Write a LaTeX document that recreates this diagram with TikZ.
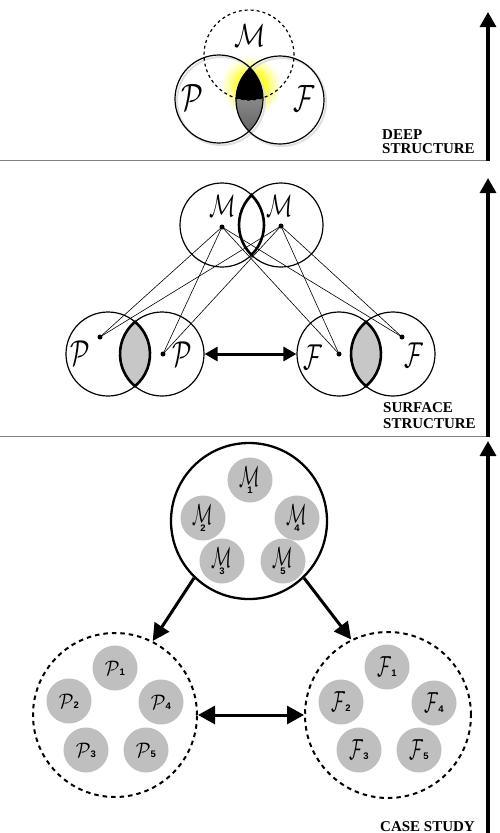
\documentclass[tikz,border=0pt]{standalone}
\usepackage{fontspec}
\setmainfont{Liberation Serif}
\setsansfont{Liberation Sans}
\usetikzlibrary{arrows.meta}

% soft yellow halo behind the triple overlap (25bp = path radius)
\pgfdeclareradialshading{halo}{\pgfpoint{0bp}{0bp}}{%
  color(0bp)=(yellow!95!white); color(11bp)=(yellow!85!white);
  color(17bp)=(yellow!40!white); color(24bp)=(white); color(50bp)=(white)}

% hand-lettered symbols
\newcommand\hM[2]{\scalebox{#1}[#2]{$\mathcal{M}$}}
\newcommand\hP[2]{\scalebox{#1}[#2]{$\mathcal{P}$}}
\newcommand\hF[2]{\scalebox{#1}[#2]{$\mathcal{F}$}}
\newcommand\idx[1]{{\fontsize{9.5}{9.5}\sffamily\bfseries #1}}

\begin{document}
\begin{tikzpicture}[x=1pt, y=-1pt,
  ring/.style={circle, draw, line width=1.2pt, minimum size=#1, inner sep=0pt},
  lensline/.style={line width=2.6pt},
  dotmark/.style={circle, fill, inner sep=0pt, minimum size=5pt},
  letter/.style={inner sep=0pt},
  wire/.style={line width=0.6pt},
  heading/.style={font=\fontsize{15}{15}\selectfont\bfseries, inner sep=0pt, anchor=base west},
  divider/.style={draw=black!50, line width=0.9pt},
  axisarrow/.style={line width=3.2pt, -{Triangle[length=15pt,width=16pt]}},
  linkarrow/.style={line width=3pt, {Triangle[length=13pt,width=14pt]}-{Triangle[length=13pt,width=14pt]}},
  bigarrow/.style={line width=3pt, -{Triangle[length=17pt,width=17pt]}},
  bigdouble/.style={line width=3pt, {Triangle[length=17pt,width=18pt]}-{Triangle[length=17pt,width=18pt]}},
  seed/.style={circle, fill=black!25, minimum size=45pt, inner sep=0pt, align=center},
  dashring/.style={circle, draw, line width=2pt, dash pattern=on 4.5pt off 4pt, minimum size=#1, inner sep=0pt},
]
\fill[white] (0,0) rectangle (499,833);
\useasboundingbox (0,0) rectangle (499,833);

% ---------------- deep structure ----------------
\shade[shading=halo] (251,86) circle (31);
% faint drop shadow of the two solid rings
\draw[black!12, line width=2pt] (221,101) circle (44);
\draw[black!12, line width=2pt] (282,102) circle (44);
\begin{scope}
  \clip (219,99) circle (44);
  \clip (280,100) circle (44);
  \shade[top color=black!30, bottom color=black!62] (215,60) rectangle (285,135);
  \clip (249,55) circle (45);
  \fill (215,50) rectangle (285,115);
\end{scope}
\node[ring=88pt] (pT) at (219,99) {};
\node[ring=88pt] (fT) at (280,100) {};
\node[ring=90pt, dash pattern=on 3pt off 3pt] (mT) at (249,55) {};
\node[letter] (mTl) at (250,36) {\hM{2.6}{3.2}};
\node[letter] (pTl) at (192,98) {\hP{2.8}{3.8}};
\node[letter] (fTl) at (304,99) {\hF{2.6}{3.8}};

\node[heading] (deepA) at (382,139) {DEEP};
\node[heading] (deepB) at (382,153) {STRUCTURE};
\draw[divider] (0,160) -- (486,160);
\coordinate (axA0) at (488,161);
\coordinate (axA1) at (488,12);
\draw[axisarrow] (axA0) -- (axA1);

% ---------------- surface structure ----------------
\node[dotmark] (dL) at (222,227) {};
\node[dotmark] (dR) at (281,226) {};
\node[dotmark] (dP1) at (100,337) {};
\node[dotmark] (dP2) at (163,354) {};
\node[dotmark] (dF1) at (339,354) {};
\node[dotmark] (dF2) at (402,337) {};
\foreach \s in {dL,dR}
  \foreach \t in {dP1,dP2,dF1,dF2}
    \draw[wire] (\s.center) -- (\t.center);

\node[ring=84pt] (mL) at (222,225) {};
\node[ring=84pt] (mR) at (281,225) {};
\draw[lensline] (251.5,195.1) arc[start angle=225.4, end angle=134.6, radius=42]
  arc[start angle=45.4, end angle=-45.4, radius=42] -- cycle;

\filldraw[fill=black!22, lensline] (135,321.83) arc[start angle=230, end angle=130, radius=42]
  arc[start angle=50, end angle=-50, radius=42] -- cycle;
\filldraw[fill=black!22, lensline] (366,321.83) arc[start angle=230, end angle=130, radius=42]
  arc[start angle=50, end angle=-50, radius=42] -- cycle;
\node[ring=84pt] (pL) at (108,354) {};
\node[ring=84pt] (pR) at (162,354) {};
\node[ring=84pt] (fL) at (339,354) {};
\node[ring=84pt] (fR) at (393,354) {};

\node[letter] (mLl) at (223,206) {\hM{2.2}{3.1}};
\node[letter] (mRl) at (280,206) {\hM{2.2}{3.1}};
\node[letter] (pLl) at (80,353) {\hP{2.5}{3.6}};
\node[letter] (pRl) at (182,354) {\hP{2.5}{3.6}};
\node[letter] (fLl) at (313,357) {\hF{2.3}{3.6}};
\node[letter] (fRl) at (414,355) {\hF{2.3}{3.6}};

\draw[linkarrow] (pR.east) -- (fL.west);

\node[heading] (surfA) at (383,412) {SURFACE};
\node[heading] (surfB) at (383,428) {STRUCTURE};
\draw[divider] (0,436) -- (486,436);
\coordinate (axB0) at (488,437);
\coordinate (axB1) at (488,178);
\draw[axisarrow] (axB0) -- (axB1);

% ---------------- case study ----------------
\node[circle, draw, line width=2.3pt, minimum size=156pt, inner sep=0pt] (mB) at (249,521) {};
\node[seed] (m1) at (250,480) {\hM{1.7}{2.9}\\[-5pt]\idx{1}};
\node[seed] (m2) at (203,518) {\hM{1.7}{2.9}\\[-5pt]\idx{2}};
\node[seed] (m4) at (297,518) {\hM{1.7}{2.9}\\[-5pt]\idx{4}};
\node[seed] (m3) at (222,561) {\hM{1.7}{2.9}\\[-5pt]\idx{3}};
\node[seed] (m5) at (283,561) {\hM{1.7}{2.9}\\[-5pt]\idx{5}};

\node[dashring=164pt] (pB) at (115,715) {};
\node[seed] (p1) at (115,668) {\hP{1.9}{2.1}\idx{1}};
\node[seed] (p2) at (69,701) {\hP{1.9}{2.1}\idx{2}};
\node[seed] (p4) at (161,702) {\hP{1.9}{2.1}\idx{4}};
\node[seed] (p3) at (86,750) {\hP{1.9}{2.1}\idx{3}};
\node[seed] (p5) at (146,750) {\hP{1.9}{2.1}\idx{5}};

\node[dashring=166pt] (fB) at (388,715) {};
\node[seed] (f1) at (387,667) {\hF{1.7}{2.9}\idx{1}};
\node[seed] (f2) at (341,702) {\hF{1.7}{2.9}\idx{2}};
\node[seed] (f4) at (434,703) {\hF{1.7}{2.9}\idx{4}};
\node[seed] (f3) at (359,750) {\hF{1.7}{2.9}\idx{3}};
\node[seed] (f5) at (419,750) {\hF{1.7}{2.9}\idx{5}};

\draw[bigarrow] (mB.-134) -- (pB.63);
\draw[bigarrow] (mB.-46) -- (fB.116);
\draw[bigdouble] (pB.east) -- (fB.west);

\node[heading] (caseA) at (380,831) {CASE STUDY};
\coordinate (axC0) at (488,833);
\coordinate (axC1) at (488,441);
\draw[axisarrow] (axC0) -- (axC1);
\end{tikzpicture}
\end{document}
